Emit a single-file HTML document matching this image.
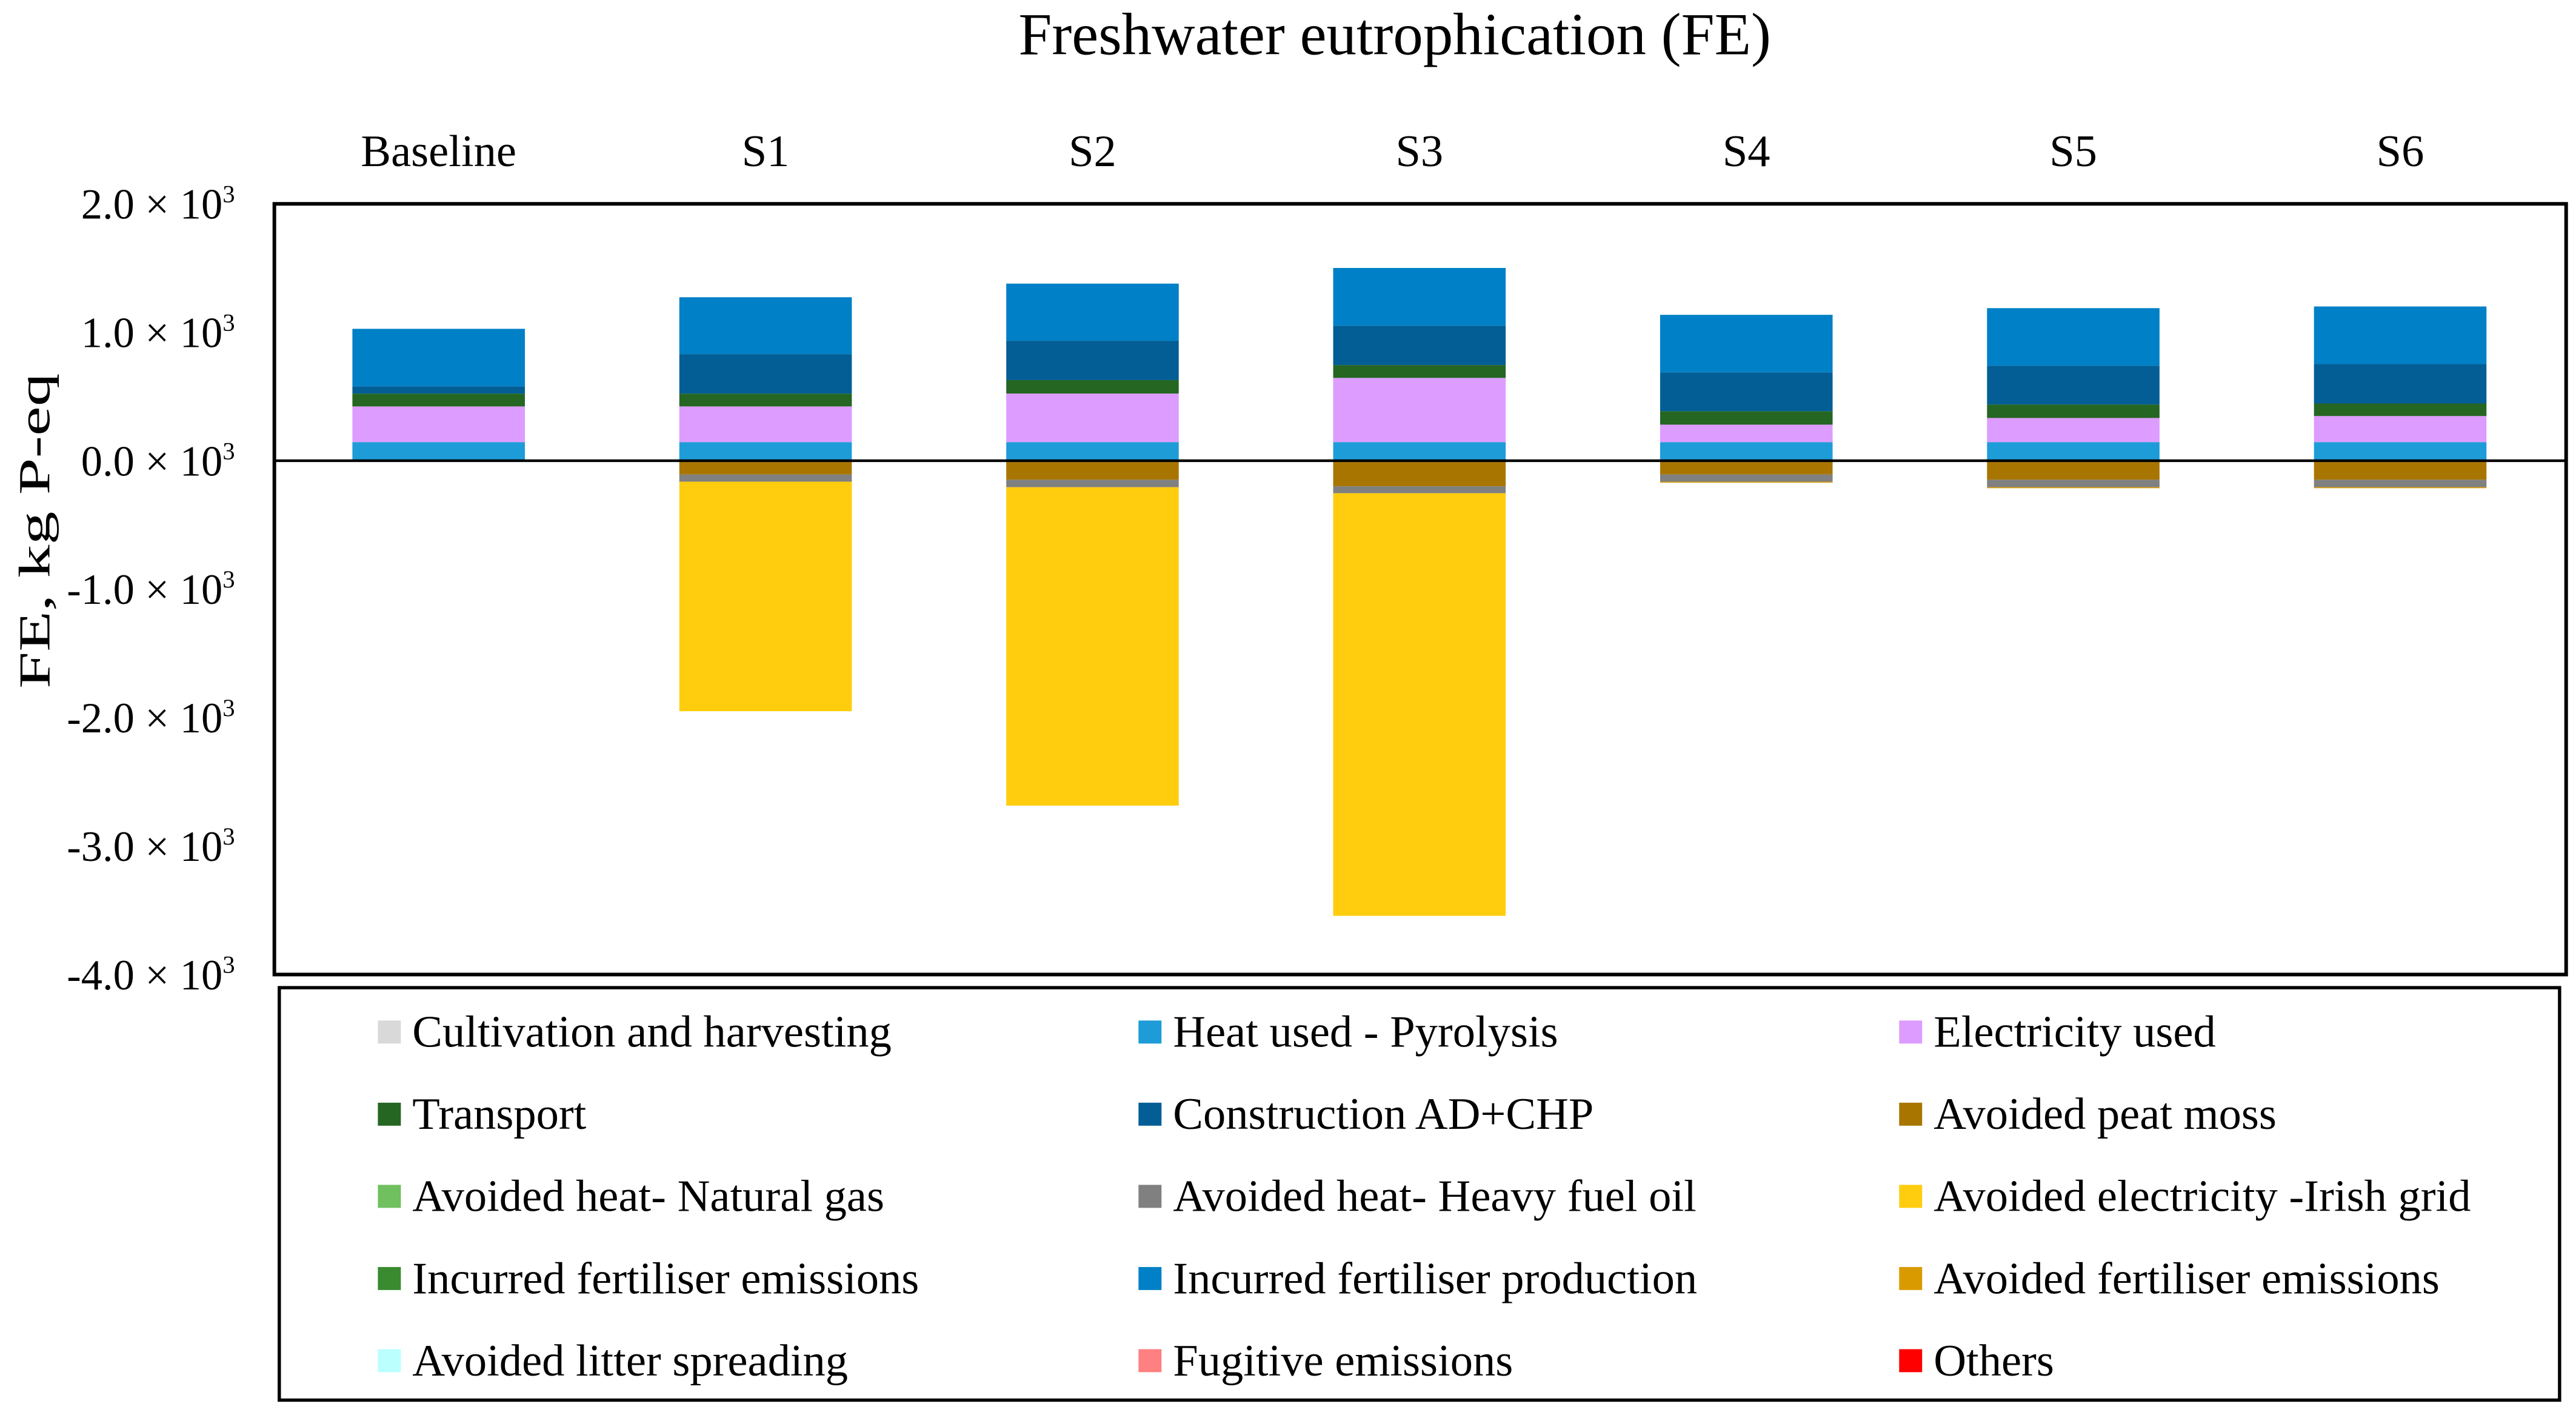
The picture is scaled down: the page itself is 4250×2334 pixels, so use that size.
<!DOCTYPE html>
<html><head><meta charset="utf-8"><style>
html,body{margin:0;padding:0;background:#fff}
svg{display:block;font-family:"Liberation Serif",serif}
</style></head><body>
<svg id="chart" width="4250" height="2334" viewBox="0 0 1568 861" xmlns="http://www.w3.org/2000/svg">
<text x="849" y="33" font-size="36.5" text-anchor="middle">Freshwater eutrophication (FE)</text>
<text transform="translate(30,323) rotate(-90)" font-size="27" text-anchor="middle" textLength="192" lengthAdjust="spacingAndGlyphs">FE, kg P-eq</text>
<g id="bars"></g>
<g id="axes"></g>
<g id="legend"></g>
</svg>
<script>
const categories=["Baseline","S1","S2","S3","S4","S5","S6"];
const seriesNames=["Heat used - Pyrolysis","Electricity used","Transport","Construction AD+CHP","Incurred fertiliser production","Avoided peat moss","Avoided heat- Heavy fuel oil","Avoided electricity -Irish grid","Avoided fertiliser emissions"];
const seriesColors=["#1E9CD8","#DD9CFF","#256623","#025E95","#0080C6","#A87600","#808080","#FFCD0E","#D99A00"];
const heatPyro=[0.145,0.145,0.145,0.145,0.145,0.145,0.145];
const electricity=[0.278,0.278,0.378,0.50,0.136,0.188,0.203];
const transport=[0.10,0.10,0.105,0.10,0.105,0.105,0.098];
const construction=[0.056,0.307,0.306,0.306,0.302,0.302,0.307];
const fertProduction=[0.448,0.443,0.445,0.45,0.448,0.448,0.448];
const peatMoss=[0,-0.107,-0.148,-0.199,-0.107,-0.148,-0.148];
const heavyFuelOil=[0,-0.056,-0.058,-0.054,-0.056,-0.058,-0.058];
const irishGrid=[0,-1.787,-2.479,-3.29,0,0,0];
const fertEmissions=[0,0,0,0,-0.005,-0.005,-0.005];
const yTicks=[2,1,0,-1,-2,-3,-4];
const yTickLabels=["2.0","1.0","0.0","-1.0","-2.0","-3.0","-4.0"];
const legendNames=["Cultivation and harvesting","Heat used - Pyrolysis","Electricity used","Transport","Construction AD+CHP","Avoided peat moss","Avoided heat- Natural gas","Avoided heat- Heavy fuel oil","Avoided electricity -Irish grid","Incurred fertiliser emissions","Incurred fertiliser production","Avoided fertiliser emissions","Avoided litter spreading","Fugitive emissions","Others"];
const legendColors=["#D9D9D9","#1E9CD8","#DD9CFF","#256623","#025E95","#A87600","#70C060","#808080","#FFCD0E","#3A8A30","#0080C6","#D99A00","#BBFFFF","#FF8080","#FF0000"];

const NS="http://www.w3.org/2000/svg";
const X0=167,X1=1562,YT=124,YB=593;
const yMin=-4,yMax=2;
function y(v){return YB-(v-yMin)/(yMax-yMin)*(YB-YT);}
const step=199,first=267,bw=105;
function x(i){return first+i*step;}
function mk(tag,attrs,parent){const e=document.createElementNS(NS,tag);for(const k in attrs)e.setAttribute(k,attrs[k]);parent.appendChild(e);return e;}
const bars=document.getElementById('bars');
const allSeries=[heatPyro,electricity,transport,construction,fertProduction,peatMoss,heavyFuelOil,irishGrid,fertEmissions];
categories.forEach((c,i)=>{
  let pos=0,neg=0;
  allSeries.forEach((s,k)=>{
    const v=s[i]; if(!v) return;
    let a,b;
    if(v>0){a=pos;b=pos+v;pos=b;}else{a=neg;b=neg+v;neg=b;}
    const r=mk('rect',{x:x(i)-bw/2,y:Math.min(y(a),y(b)),width:bw,height:Math.max(Math.abs(y(a)-y(b)),0.6),fill:seriesColors[k]},bars);
    
    
  });
  const t=mk('text',{x:x(i),y:101,'font-size':27.5,'text-anchor':'middle'},bars);
  t.textContent=c;
  
  
});
const axes=document.getElementById('axes');
const fr=mk('rect',{x:X0,y:YT,width:X1-X0,height:YB-YT,fill:'none',stroke:'#000','stroke-width':2.2},axes);


const zl=mk('line',{x1:X0,x2:X1,y1:y(0),y2:y(0),stroke:'#000','stroke-width':1.6},axes);


yTicks.forEach((v,i)=>{
  const t=mk('text',{x:143,y:y(v)+9,'font-size':26,'text-anchor':'end'},axes);
  t.textContent=yTickLabels[i]+' × 10';
  const s=mk('tspan',{'font-size':15,dy:-10},t);s.textContent='3';
  
  
});
const lg=document.getElementById('legend');
const lb=mk('rect',{x:170,y:601,width:1388,height:251,fill:'none',stroke:'#000','stroke-width':2},lg);


const colX=[230,693,1156];
legendNames.forEach((n,i)=>{
  const r=Math.floor(i/3),c=i%3;
  const cy=628+r*50;
  const g=mk('g',{},lg);
  
  
  mk('rect',{x:colX[c],y:cy-7,width:14,height:14,fill:legendColors[i]},g);
  const t=mk('text',{x:colX[c]+21,y:cy+9,'font-size':27.5},g);
  t.textContent=n;
});
</script>
</body></html>
